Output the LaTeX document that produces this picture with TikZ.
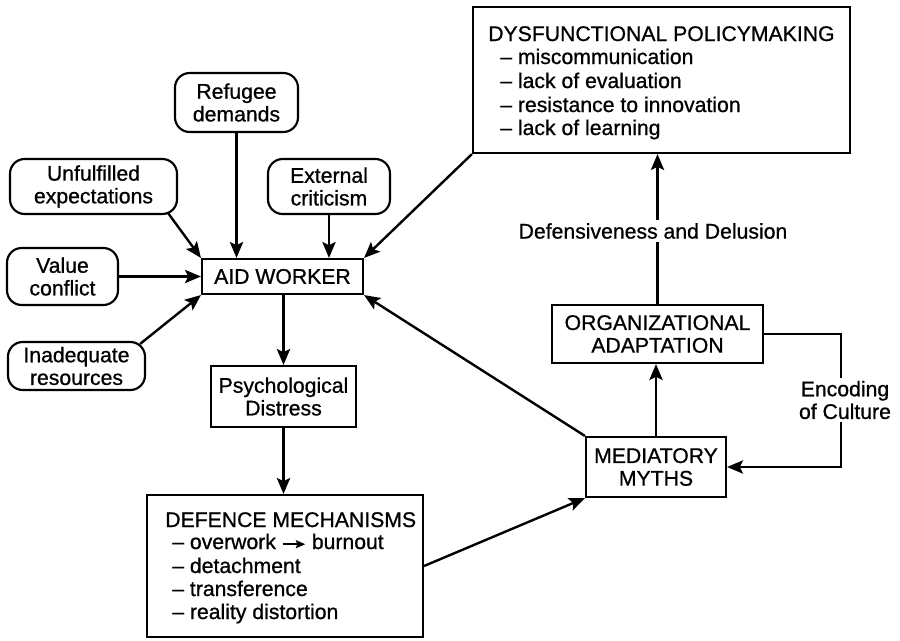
\documentclass[tikz,border=0pt]{standalone}
\usepackage{fontspec}
\setmainfont{Liberation Sans}[FakeBold=0.8]
\usetikzlibrary{arrows.meta,calc}
\begin{document}
\begin{tikzpicture}[x=0.75pt,y=-0.75pt,
  every node/.style={font=\fontsize{15.9}{17}\selectfont},
  wh/.style 2 args={minimum width=#1*0.75pt, minimum height=#2*0.75pt, inner sep=0pt},
  box/.style={draw, line width=1.6pt, align=center},
  rbox/.style={box, rounded corners=11pt},
  txt/.style={inner sep=0pt, anchor=base west},
  lbl/.style={inner sep=2pt, align=center, fill=white},
  conn/.style={line width=1.8pt},
  arr/.style={conn, -{Stealth[length=12pt, width=10pt, inset=2.5pt]}}
]
\useasboundingbox (0,0) rectangle (900,640);

% source boxes
\node[rbox, wh={123}{59}] (ref) at (236.5,102.5) {Refugee\\demands};
\node[rbox, wh={167}{55}] (unf) at (93.5,186.5) {Unfulfilled\\expectations};
\node[rbox, wh={122}{55}] (ext) at (329,186.5) {External\\criticism};
\node[rbox, wh={111}{57}] (val) at (62.5,276.5) {Value\\conflict};
\node[rbox, wh={137}{48}] (inad) at (76.5,366) {Inadequate\\resources};

% main chain
\node[box, wh={161}{35}] (aid) at (282.5,276.5) {AID WORKER};
\node[box, wh={145}{61}] (psy) at (283.5,396.5) {Psychological\\Distress};
\node[box, wh={276}{142}] (def) at (285,566) {};
\node[txt] (f0) at (165,527) {DEFENCE MECHANISMS};
\node[txt] (f1) at (172,549) {– overwork \tikz[baseline]\draw[line width=1.1pt,-{Stealth[length=7pt,width=6pt,inset=1pt]}] (0pt,3.6pt) -- (17pt,3.6pt); burnout};
\node[txt] (f2) at (172,573) {– detachment};
\node[txt] (f3) at (172,596) {– transference};
\node[txt] (f4) at (172,619) {– reality distortion};

\node[box, wh={140}{60}] (med) at (656,467) {MEDIATORY\\MYTHS};
\node[box, wh={211}{58}] (org) at (657.5,334) {ORGANIZATIONAL\\ADAPTATION};
\node[box, wh={377}{146}] (dys) at (661.5,80) {};
\node[txt] (d0) at (488,41) {DYSFUNCTIONAL POLICYMAKING};
\node[txt] (d1) at (500,64) {– miscommunication};
\node[txt] (d2) at (500,88) {– lack of evaluation};
\node[txt] (d3) at (500,112) {– resistance to innovation};
\node[txt] (d4) at (500,135) {– lack of learning};

% labels
\node[lbl] (lbl1) at (653,231) {Defensiveness and Delusion};
\node[lbl] (lbl2) at (845,400) {Encoding\\of Culture};
\coordinate (ec) at (841,400);

% connectors into AID WORKER
\draw[arr] (ref.south) -- (ref.south |- aid.north);
\draw[arr] (ext.south) -- (ext.south |- aid.north);
\draw[arr] ($(unf.south east)+(-10,-2)$) -- (aid.north west);
\draw[arr] (val.east) -- (val.east -| aid.west);
\draw[arr] ($(inad.north east)+(-6,3)$) -- (aid.south west);
\draw[arr] (dys.south west) -- (aid.north east);
\draw[arr] (med.north west) -- (aid.south east);

% chain
\draw[arr] (psy.north |- aid.south) -- (psy.north);
\draw[arr] (psy.south) -- (psy.south |- def.north);
\draw[arr] (def.east) -- (med.south west);
\draw[arr] (med.north) -- (med.north |- org.south);
\draw[conn] (org.north) -- (org.north |- lbl1.south);
\draw[arr] (org.north |- lbl1.north) -- (org.north |- dys.south);
\draw[conn] (org.east) -- (org.east -| ec) -- (ec |- lbl2.north);
\draw[arr] (ec |- lbl2.south) -- (ec |- med.east) -- (med.east);
\end{tikzpicture}
\end{document}
